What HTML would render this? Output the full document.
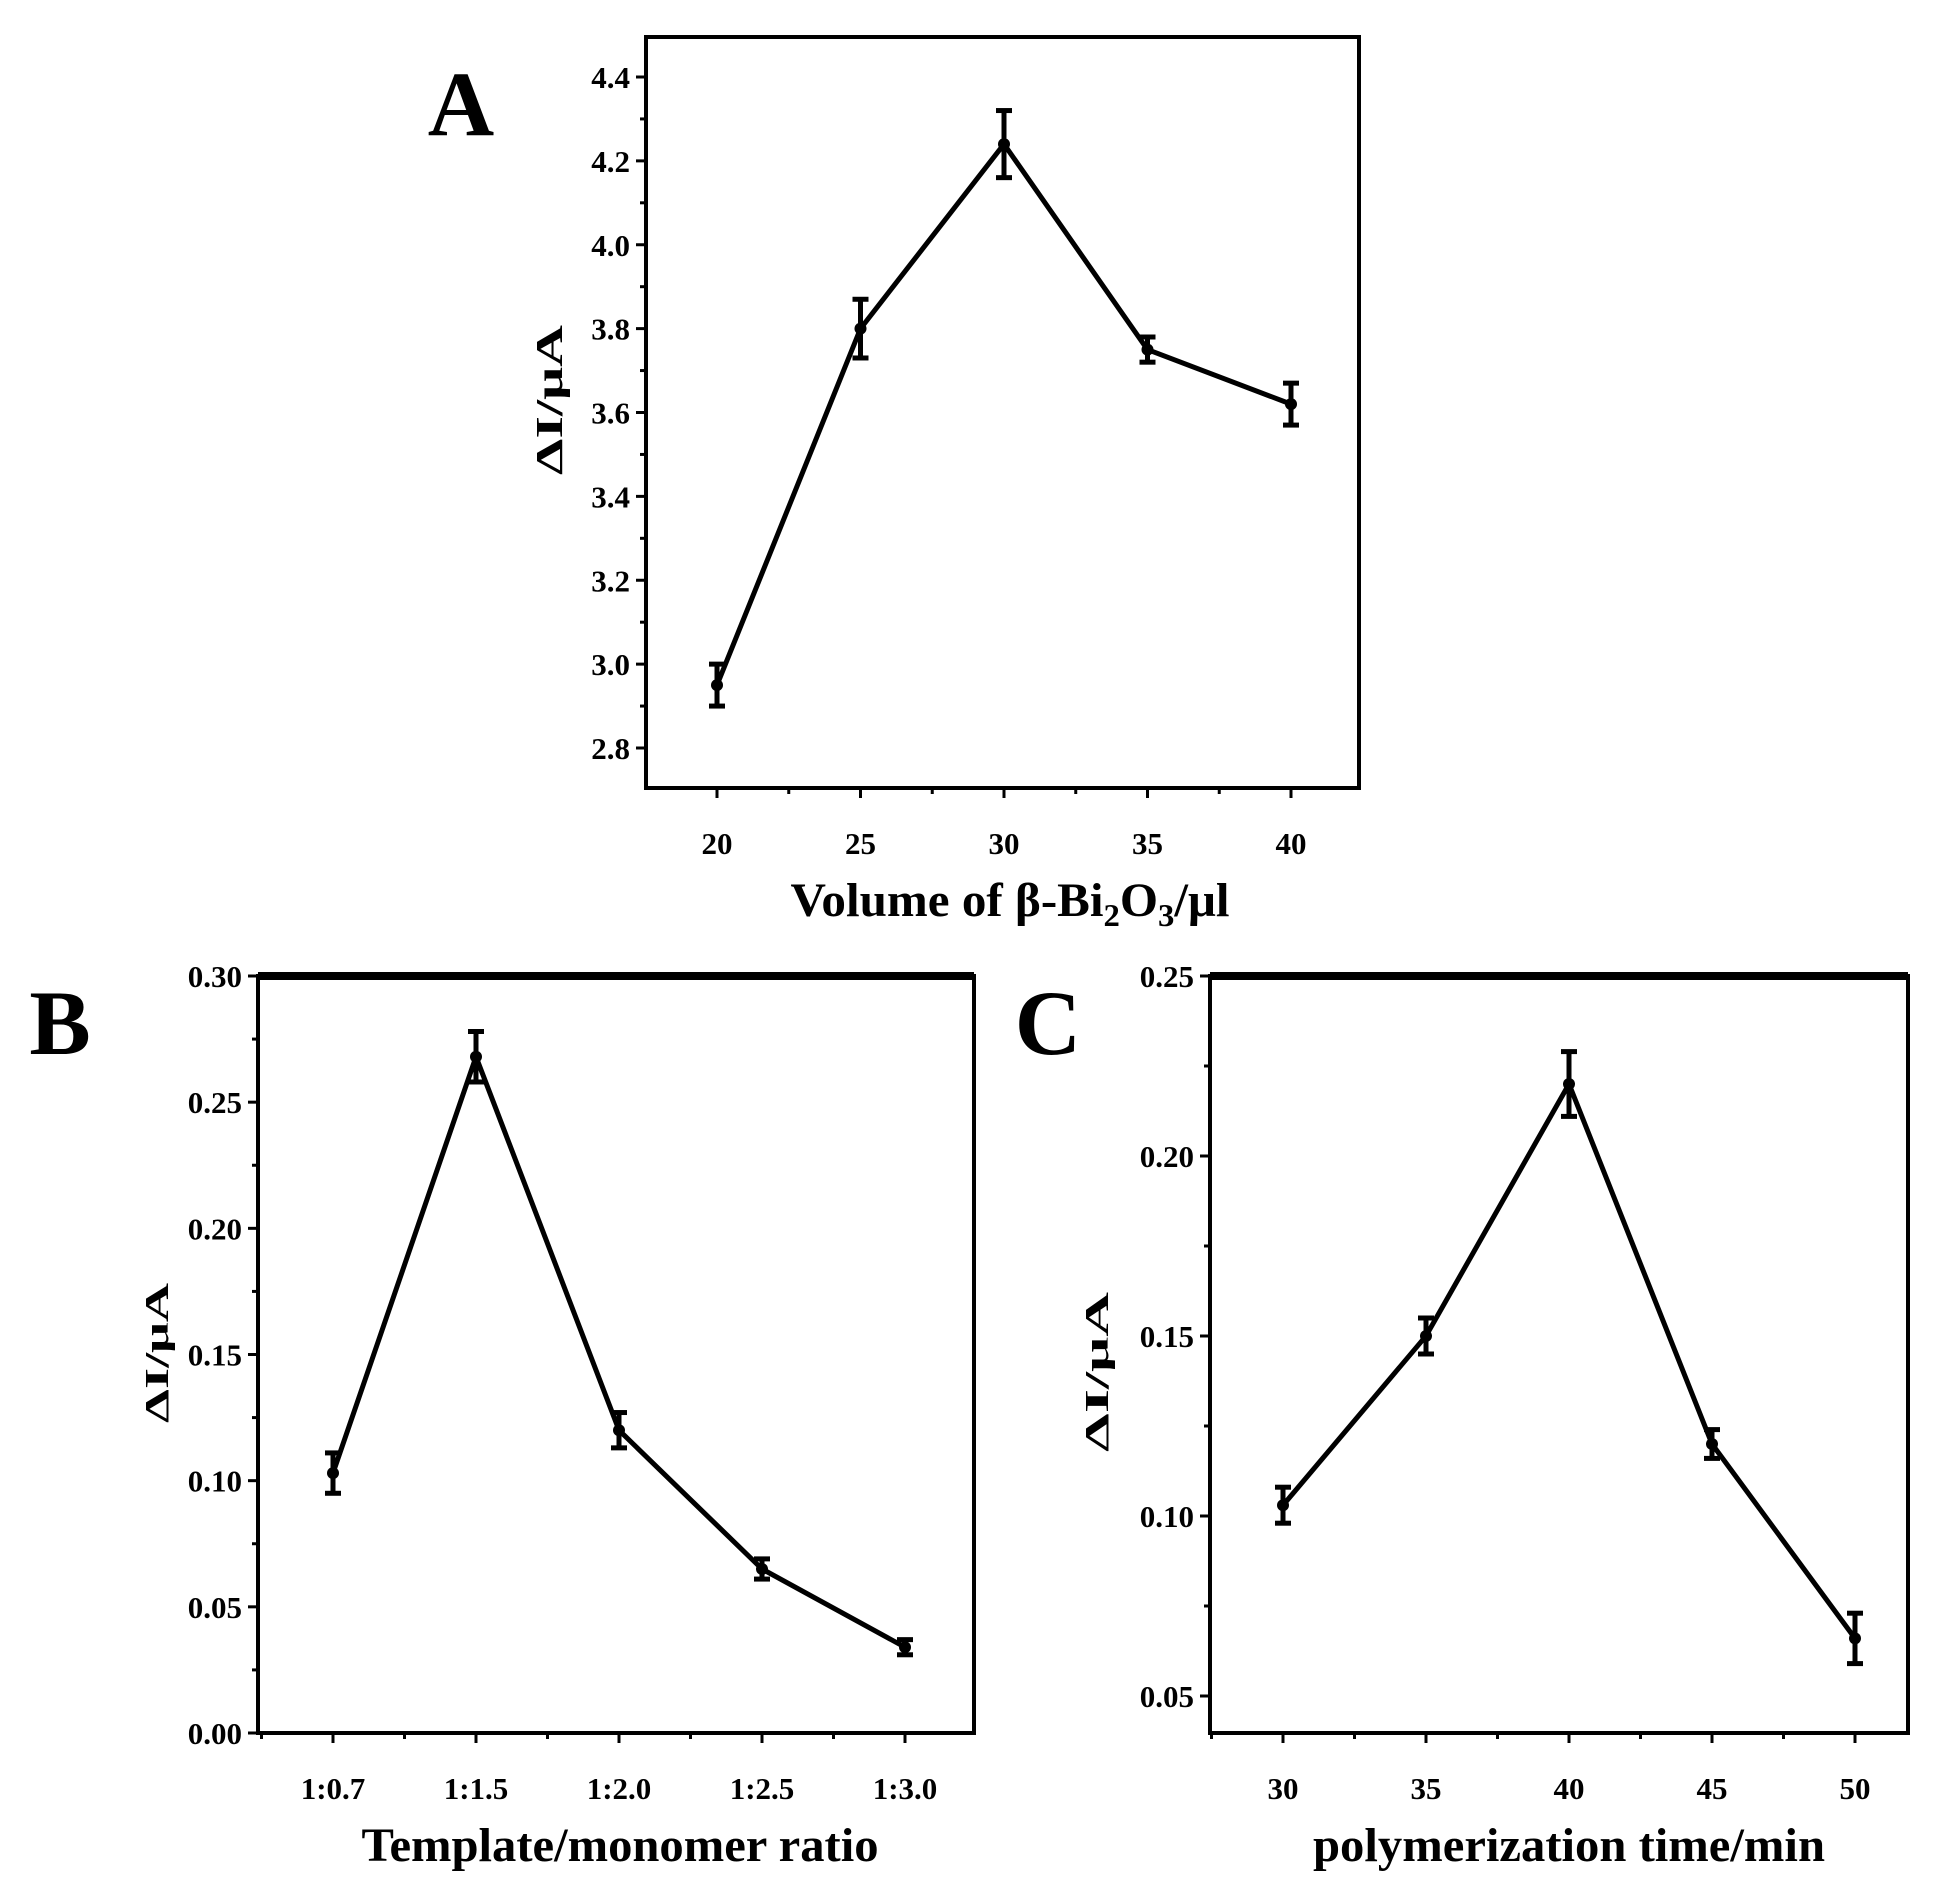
<!DOCTYPE html>
<html><head><meta charset="utf-8"><style>
html,body{margin:0;padding:0;background:#fff;}
svg{display:block;font-family:"Liberation Serif",serif;font-weight:bold;}
</style></head><body>
<svg id="fig" width="1955" height="1898" viewBox="0 0 1955 1898" xmlns="http://www.w3.org/2000/svg">
<rect width="1955" height="1898" fill="#fff"/>
<text x="461" y="135" font-size="92" text-anchor="middle">A</text>
<text x="60" y="1054" font-size="92" text-anchor="middle">B</text>
<text x="1048" y="1054" font-size="92" text-anchor="middle">C</text>
</svg>
<script>
const catsA = ["20","25","30","35","40"];
const valsA = [2.95, 3.80, 4.24, 3.75, 3.62];
const errA = [0.05, 0.07, 0.08, 0.03, 0.05];
const ticksA = [2.8,3.0,3.2,3.4,3.6,3.8,4.0,4.2,4.4];
const tickLabelsA = ["2.8","3.0","3.2","3.4","3.6","3.8","4.0","4.2","4.4"];

const catsB = ["1:0.7","1:1.5","1:2.0","1:2.5","1:3.0"];
const valsB = [0.103, 0.268, 0.120, 0.065, 0.034];
const errB = [0.008, 0.010, 0.007, 0.004, 0.003];
const ticksB = [0,0.05,0.10,0.15,0.20,0.25,0.30];
const tickLabelsB = ["0.00","0.05","0.10","0.15","0.20","0.25","0.30"];

const catsC = ["30","35","40","45","50"];
const valsC = [0.103, 0.150, 0.220, 0.120, 0.066];
const errC = [0.005, 0.005, 0.009, 0.004, 0.007];
const ticksC = [0.05,0.10,0.15,0.20,0.25];
const tickLabelsC = ["0.05","0.10","0.15","0.20","0.25"];

const NS = "http://www.w3.org/2000/svg";
const svg = document.getElementById('fig');
function mk(tag, attrs, parent){
  const e = document.createElementNS(NS, tag);
  for (const k in attrs) e.setAttribute(k, attrs[k]);
  (parent||svg).appendChild(e);
  return e;
}
function panel(p){
  const g = mk('g', {});
  
  
  const yS = v => p.y0pix - (v - p.v0) / (p.v1 - p.v0) * (p.y0pix - p.y1pix);
  const xS = i => p.xFirst + i * p.xStep;
  const fr = mk('rect', {x:p.L, y:p.T, width:p.R-p.L, height:p.B-p.T, fill:'none', stroke:'#000', 'stroke-width':4}, g);
  
  
  if (p.thickTop){ mk('line',{x1:p.L,y1:p.T,x2:p.R,y2:p.T,stroke:'#000','stroke-width':8},g); }
  p.ticks.forEach((t,i)=>{
    const y = yS(t);
    mk('line',{x1:p.L-10,y1:y,x2:p.L,y2:y,stroke:'#000','stroke-width':3},g);
    const tx = mk('text',{x:p.L-16,y:y+11,'font-size':31,'text-anchor':'end'},g);
    tx.textContent = p.labels[i];
    
    
    if (i < p.ticks.length-1){
      const ym = yS((t + p.ticks[i+1])/2);
      mk('line',{x1:p.L-6,y1:ym,x2:p.L,y2:ym,stroke:'#000','stroke-width':3},g);
    }
  });
  p.cats.forEach((c,i)=>{
    const x = xS(i);
    mk('line',{x1:x,y1:p.B,x2:x,y2:p.B+10,stroke:'#000','stroke-width':3},g);
    const xm = x + p.xStep/2;
    if (xm < p.R) mk('line',{x1:xm,y1:p.B,x2:xm,y2:p.B+6,stroke:'#000','stroke-width':3},g);
    if (i===0){ const xl = x - p.xStep/2; if (xl > p.L) mk('line',{x1:xl,y1:p.B,x2:xl,y2:p.B+6,stroke:'#000','stroke-width':3},g); }
    const tx = mk('text',{x:x,y:p.B+66,'font-size':31,'text-anchor':'middle'},g);
    tx.textContent = c;
    
    
  });
  const pts = p.vals.map((v,i)=>xS(i)+','+yS(v)).join(' ');
  const pl = mk('polyline',{points:pts,fill:'none',stroke:'#000','stroke-width':5,'stroke-linejoin':'miter'},g);
  
  
  p.vals.forEach((v,i)=>{
    const x = xS(i), e = p.err[i];
    const eb = mk('g',{},g);
    
    
    mk('line',{x1:x,y1:yS(v-e),x2:x,y2:yS(v+e),stroke:'#000','stroke-width':5},eb);
    mk('line',{x1:x-8,y1:yS(v-e),x2:x+8,y2:yS(v-e),stroke:'#000','stroke-width':5},eb);
    mk('line',{x1:x-8,y1:yS(v+e),x2:x+8,y2:yS(v+e),stroke:'#000','stroke-width':5},eb);
    mk('circle',{cx:x,cy:yS(v),r:6,fill:'#000'},eb);
  });
  const xt = mk('text',{x:p.xtX,y:p.xtY,'font-size':48,'text-anchor':'middle',textLength:p.xtLen,lengthAdjust:'spacingAndGlyphs'},g);
  xt.innerHTML = p.xTitle;
  
  
  const yt = mk('text',{x:0,y:0,'font-size':p.ytSize,'text-anchor':'middle',textLength:p.ytLen,lengthAdjust:'spacingAndGlyphs',transform:`translate(${p.ytX},${p.ytY}) rotate(-90)`},g);
  yt.textContent = 'ΔI/μA';
  
  
}
panel({name:'panel-a-chart',L:646,R:1359,T:37,B:788,v0:2.8,v1:4.4,y0pix:748,y1pix:77,
  xFirst:717,xStep:143.5,cats:catsA,vals:valsA,err:errA,ticks:ticksA,labels:tickLabelsA,
  xTitle:'Volume of β-Bi<tspan font-size="32" dy="10">2</tspan><tspan dy="-10">O</tspan><tspan font-size="32" dy="10">3</tspan><tspan dy="-10">/μl</tspan>',
  xtX:1010,xtY:916,xtLen:439,ytX:562,ytY:400,ytLen:150,ytSize:38});
panel({name:'panel-b-chart',L:258,R:974,T:976,B:1733,v0:0,v1:0.30,y0pix:1733,y1pix:976,thickTop:true,
  xFirst:333,xStep:143,cats:catsB,vals:valsB,err:errB,ticks:ticksB,labels:tickLabelsB,
  xTitle:'Template/monomer ratio',xtX:620,xtY:1861,xtLen:517,ytX:168,ytY:1353,ytLen:140,ytSize:34});
panel({name:'panel-c-chart',L:1210,R:1908,T:976,B:1733,v0:0.05,v1:0.25,y0pix:1696,y1pix:976,thickTop:true,
  xFirst:1283,xStep:143,cats:catsC,vals:valsC,err:errC,ticks:ticksC,labels:tickLabelsC,
  xTitle:'polymerization time/min',xtX:1569,xtY:1861,xtLen:512,ytX:1108,ytY:1372,ytLen:160,ytSize:34});
</script>
</body></html>
